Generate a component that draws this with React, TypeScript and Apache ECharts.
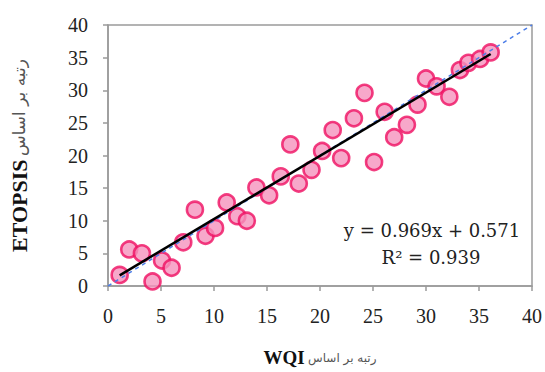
import React, { useEffect, useRef } from "react";
import * as echarts from "echarts";

const wqiRank = [1.1, 2.0, 3.2, 4.2, 5.1, 6.0, 7.1, 8.2, 9.2, 10.1, 11.2, 12.2, 13.1, 14.0, 15.2, 16.3, 17.2, 18.0, 19.2, 20.2, 21.2, 22.0, 23.2, 24.2, 25.1, 26.1, 27.0, 28.2, 29.2, 30.0, 31.0, 32.2, 33.2, 34.0, 35.1, 36.1];
const etopsisRank = [1.7, 5.6, 5.0, 0.7, 3.9, 2.8, 6.7, 11.7, 7.7, 8.9, 12.8, 10.7, 10.0, 15.1, 13.9, 16.8, 21.7, 15.7, 17.8, 20.7, 23.9, 19.6, 25.7, 29.6, 19.0, 26.7, 22.8, 24.7, 27.8, 31.8, 30.6, 29.0, 33.1, 34.2, 34.8, 35.8];
const slope = 0.969;
const intercept = 0.571;
const trendRange = [1.1, 36.1];
const identityRange = [0, 40];
const equationText = "y = 0.969x + 0.571";
const r2Text = "R² = 0.939";
const xTitleLatin = "WQI";
const yTitleLatin = "ETOPSIS";
const titleArabic = "رتبه بر اساس";

export default function App() {
  const ref = useRef<HTMLDivElement>(null);
  useEffect(() => {
    if (!ref.current) return;
    const chart = echarts.init(ref.current, null, { renderer: "svg" });
    const serif = "Liberation Serif";
    const axisCommon = {
      type: "value" as const,
      min: 0,
      max: 40,
      interval: 5,
      axisLine: { show: true, onZero: false, lineStyle: { color: "#9a9a9a", width: 1.5 } },
      axisTick: { show: true, inside: false, length: 5, lineStyle: { color: "#9a9a9a", width: 1.5 } },
      splitLine: { show: false },
      axisLabel: { fontFamily: serif, fontSize: 20, color: "#222", margin: 20 },
    };
    chart.setOption({
      animation: false,
      backgroundColor: "#fff",
      grid: {
        left: 104,
        right: 8,
        top: 25,
        bottom: 83,
        show: true,
        borderColor: "#9a9a9a",
        borderWidth: 1.5,
      },
      xAxis: {
        ...axisCommon,
        name: `{b|${xTitleLatin}} {a|${titleArabic}}`,
        nameLocation: "middle",
        nameGap: 62,
        nameTextStyle: {
          rich: {
            b: { fontFamily: serif, fontWeight: "bold", fontSize: 19, color: "#111" },
            a: { fontFamily: "DejaVu Sans", fontSize: 12, color: "#555" },
          },
        },
      },
      yAxis: {
        ...axisCommon,
        name: `{b|${yTitleLatin}} {a|${titleArabic}}`,
        nameLocation: "middle",
        nameGap: 78,
        nameTextStyle: {
          rich: {
            b: { fontFamily: serif, fontWeight: "bold", fontSize: 22, color: "#111" },
            a: { fontFamily: "DejaVu Sans", fontSize: 17, color: "#555" },
          },
        },
      },
      series: [
        {
          type: "scatter",
          data: wqiRank.map((x, i) => [x, etopsisRank[i]]),
          symbol: "circle",
          symbolSize: 16,
          itemStyle: { color: "#f592bd", borderColor: "#ef0f62", borderWidth: 2.6 },
          z: 2,
        },
        {
          type: "line",
          data: identityRange.map((v) => [v, v]),
          symbol: "none",
          lineStyle: { color: "#4d7ee8", width: 1.5, type: [4, 4] },
          z: 3,
        },
        {
          type: "line",
          data: trendRange.map((x) => [x, slope * x + intercept]),
          symbol: "none",
          lineStyle: { color: "#000", width: 2.5 },
          z: 4,
        },
      ],
      graphic: [
        {
          type: "text",
          x: 432,
          y: 230,
          style: {
            text: equationText,
            fontFamily: "DejaVu Serif",
            fontSize: 18,
            fill: "#222",
            align: "center",
            verticalAlign: "middle",
          },
          z: 10,
        },
        {
          type: "text",
          x: 431,
          y: 257,
          style: {
            text: r2Text,
            fontFamily: "DejaVu Serif",
            fontSize: 18,
            fill: "#222",
            align: "center",
            verticalAlign: "middle",
          },
          z: 10,
        },
      ],
    });
    return () => chart.dispose();
  }, []);
  return (
    <div
      ref={ref}
      style={{ position: "fixed", left: 0, top: 0, width: 545, height: 372, background: "#fff" }}
    />
  );
}
